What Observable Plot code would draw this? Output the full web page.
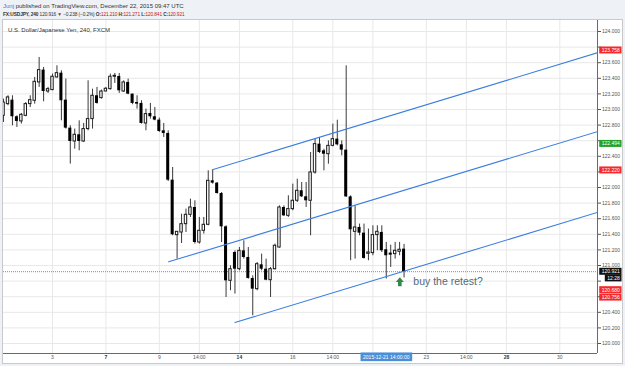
<!DOCTYPE html>
<html>
<head>
<meta charset="utf-8">
<script src="https://cdn.jsdelivr.net/npm/d3@7"></script>
<script src="https://cdn.jsdelivr.net/npm/@observablehq/plot@0.6"></script>
<style>
  html, body { margin: 0; padding: 0; width: 625px; height: 366px; overflow: hidden; background: #eef1f5;
    font-family: "Liberation Sans", Arial, sans-serif; }
  .hl { position: absolute; left: 3px; line-height: 7px; color: #333; white-space: nowrap; }
  #l1 { top: 2.5px; font-size: 6px; }
  #l2 { top: 11.2px; font-size: 4.8px; letter-spacing: -0.12px; }
  .red { color: #c4161c; }
  .usr { color: #3b82d0; }
  #panel { position: absolute; left: 2px; top: 19px; width: 621px; height: 345px; box-sizing: border-box;
    background: #fff; border: 1px solid #c9c9c9; }
  #chart { position: absolute; left: 0; top: 20px; }
</style>
</head>
<body>
<div id="l1" class="hl"><span class="usr">Junj</span> published on TradingView.com, December 22, 2015 09:47 UTC</div>
<div id="l2" class="hl"><b>FX:USDJPY, 240</b> 120.916 <span class="red">▼</span> −0.238 (−0.2%) <b>O:</b><span class="red">121.210</span> <b>H:</b><span class="red">121.271</span> <b>L:</b><span class="red">120.841</span> <b>C:</b><span class="red">120.921</span></div>
<div id="panel"></div>
<div id="chart"></div>
<script>
// ---- data: 4-hour USD/JPY candles, bar index (6 bars per trading day, bar 0 = Dec 1) ----
const barIndex = [1,2,3,4,5,6,7,8,9,10,11,12,13,14,15,16,17,18,19,20,21,22,23,24,25,26,27,28,29,30,
  31,32,33,34,35,36,37,38,39,40,41,42,43,44,45,46,47,48,49,50,51,52,53,54,55,56,57,58,59,60,
  61,62,63,64,65,66,67,68,69,70,71,72,73,74,75,76,77,78,79,80,81,82,83,84,85,86,87,88,89,90,91];
const open = [122.919,123.069,123.120,122.907,122.847,122.919,123.069,123.112,123.347,123.505,
  123.231,123.249,123.411,123.466,123.120,122.761,122.590,122.676,122.590,122.749,
  122.877,123.176,123.146,123.231,123.261,123.420,123.424,123.231,123.347,123.197,
  123.090,123.078,122.821,122.949,122.907,122.864,122.727,122.693,122.094,121.389,
  121.423,121.530,121.650,121.744,121.295,121.445,121.522,122.086,122.056,121.923,
  121.496,120.804,121.167,120.953,121.188,121.103,120.834,120.697,121.009,120.953,
  120.812,120.953,121.231,121.744,121.637,121.723,121.830,121.958,121.881,121.830,
  122.192,122.556,122.470,122.427,122.534,122.620,122.547,122.479,121.880,121.432,
  121.488,121.415,121.150,121.159,121.390,121.424,121.202,121.159,121.146,121.176,121.210];
const high = [123.133,123.176,123.176,122.919,122.949,123.090,123.176,123.411,123.667,123.539,
  123.283,123.454,123.560,123.496,123.390,122.791,122.749,122.855,122.821,123.368,
  123.261,123.283,123.249,123.283,123.454,123.462,123.462,123.368,123.390,123.197,
  123.176,123.112,123.005,123.078,123.026,122.890,122.821,122.727,122.257,121.432,
  121.658,121.723,121.851,121.830,121.616,121.616,122.214,122.223,122.064,121.936,
  121.509,120.996,121.188,121.231,121.317,121.231,120.868,121.039,121.146,121.082,
  120.975,121.274,121.765,121.765,121.894,122.043,122.107,122.064,122.064,122.449,
  122.620,122.641,122.491,122.598,122.812,122.863,122.598,123.560,121.893,121.766,
  121.531,121.531,121.467,121.509,121.509,121.509,121.296,121.261,121.296,121.296,121.271];
const low = [122.834,123.048,122.791,122.770,122.813,122.907,123.026,123.069,123.283,123.099,
  123.206,123.240,123.402,122.855,122.749,122.300,122.492,122.471,122.578,122.727,
  122.749,123.069,123.133,123.227,123.249,123.334,123.206,123.219,123.189,123.061,
  123.005,122.813,122.727,122.877,122.855,122.706,122.642,122.077,121.381,121.082,
  121.282,121.423,121.616,121.274,121.274,121.402,121.509,122.043,121.915,121.295,
  120.590,120.676,120.633,120.932,121.082,120.825,120.355,120.676,120.932,120.804,
  120.590,120.941,121.223,121.629,121.616,121.701,121.808,121.872,121.744,121.381,
  122.171,122.436,122.214,122.299,122.521,122.534,122.406,121.872,121.061,121.082,
  121.381,121.082,121.061,121.125,121.189,121.167,120.826,120.975,121.082,121.125,120.841];
const close = [123.090,123.155,122.907,122.847,122.932,123.069,123.120,123.355,123.505,123.231,
  123.261,123.420,123.466,123.112,122.761,122.590,122.676,122.590,122.749,122.877,
  123.176,123.078,123.231,123.266,123.420,123.432,123.240,123.347,123.197,123.078,
  123.069,122.821,122.941,122.907,122.864,122.719,122.693,122.094,121.394,121.432,
  121.530,121.650,121.744,121.295,121.445,121.522,122.086,122.056,121.923,121.496,
  120.804,120.953,120.953,121.188,121.103,120.834,120.697,121.017,120.953,120.812,
  120.953,121.253,121.744,121.637,121.723,121.830,121.958,121.881,121.830,122.193,
  122.556,122.449,122.427,122.534,122.620,122.547,122.479,121.880,121.458,121.488,
  121.415,121.091,121.167,121.390,121.432,121.189,121.125,121.133,121.189,121.202,120.921];

// parallel channel lines (bar index, price)
const channelName   = ["upper", "middle", "lower"];
const channelStartI = [47.9, 38.1, 53.0];
const channelStartP = [122.227, 121.047, 120.269];
const channelEndI   = [134.47, 134.47, 134.47];
const channelEndP   = [123.727, 122.717, 121.681];

// price axis
const priceTicks = [120.0,120.2,120.4,120.6,120.8,121.0,121.2,121.4,121.6,121.8,122.0,
  122.2,122.4,122.6,122.8,123.0,123.2,123.4,123.6,123.8,124.0];
// price-scale flags
const flagText  = ["123.758", "122.494", "122.220", "120.921", "12:28", "120.680", "120.756"];
const flagPrice = [123.758, 122.56, 122.220, 120.921, 120.836, 120.685, 120.59];
const flagColor = ["#f42a2a", "#24a324", "#f42a2a", "#111111", "#111111", "#f42a2a", "#f42a2a"];

// time axis
const timeTickI     = [12, 24, 36, 45, 54, 66, 75, 96, 105, 114, 126];
const timeTickLabel = ["3", "7", "9", "14:00", "14", "16", "14:00", "23", "14:00", "28", "30"];
const timeTickBold  = [false, true, false, false, true, false, false, false, false, true, false];
const timeGridI     = [12, 24, 36, 45, 54, 66, 75, 84, 96, 105, 114, 126];
const crossTimeI    = 87;
const crossTimeText = "2015-12-21 14:00:00";

const lastClose = 120.921;
const noteI = 90.05, notePrice = 120.791, noteText = "buy the retest?";
const chartTitle = "U.S. Dollar/Japanese Yen, 240, FXCM";

// ---- build tables ----
const candles = barIndex.map((i, k) => ({i, o: open[k], h: high[k], l: low[k], c: close[k]}));
const up = candles.filter(d => d.c >= d.o);
const down = candles.filter(d => d.c < d.o);
const channel = channelName.flatMap((n, k) => [
  {name: n, i: channelStartI[k], p: channelStartP[k]},
  {name: n, i: channelEndI[k], p: channelEndP[k]}
]);
const flags = flagText.map((t, k) => ({t, p: flagPrice[k], color: flagColor[k]}));
const timeTicks = timeTickI.map((i, k) => ({i, label: timeTickLabel[k], bold: timeTickBold[k]}));
// tick labels hidden behind a price flag
const covered = v => flagPrice.some(p => Math.abs(p - v) < 0.075);
const fmt = d3.format(".3f");

const xDomain = [0.99, 134.47];
const yDomain = [119.872, 124.141];
const fontFamily = "'Liberation Sans', Arial, sans-serif";

const arrowSymbol = {
  draw(ctx) {
    ctx.moveTo(0, -4.5);
    ctx.lineTo(4, 0.3);
    ctx.lineTo(1.8, 0.3);
    ctx.lineTo(1.8, 4.5);
    ctx.lineTo(-1.8, 4.5);
    ctx.lineTo(-1.8, 0.3);
    ctx.lineTo(-4, 0.3);
    ctx.closePath();
  }
};

const chart = Plot.plot({
  width: 625,
  height: 346,
  marginLeft: 3,
  marginRight: 28,
  marginTop: 0,
  marginBottom: 13,
  style: {background: "transparent", fontFamily, overflow: "visible"},
  x: {domain: xDomain, axis: null},
  y: {domain: yDomain, axis: null},
  marks: [
    Plot.gridY(priceTicks, {stroke: "#e8e8e8", strokeOpacity: 1}),
    Plot.gridX(timeGridI, {stroke: "#e8e8e8", strokeOpacity: 1}),
    Plot.ruleY([lastClose], {stroke: "#8c8c8c", strokeDasharray: "1,1"}),
    Plot.ruleX(candles, {x: "i", y1: "l", y2: "h", stroke: "#3a3a3a", strokeWidth: 1, clip: true}),
    Plot.rect(down, {x1: d => d.i - 0.34, x2: d => d.i + 0.34, y1: "o", y2: "c", fill: "#000", clip: true}),
    Plot.rect(up, {x1: d => d.i - 0.27, x2: d => d.i + 0.27, y1: "o", y2: "c", fill: "#fff", stroke: "#1a1a1a", strokeWidth: 1, clip: true}),
    Plot.line(channel, {x: "i", y: "p", z: "name", stroke: "#3b7de0", strokeWidth: 1.1, clip: true}),
    Plot.ruleX([xDomain[1]], {stroke: "#6a6a6a"}),
    Plot.ruleY([yDomain[0]], {stroke: "#6a6a6a"}),
    Plot.axisY(priceTicks, {anchor: "right", tickFormat: d => covered(d) ? "" : fmt(d), tickSize: 3, tickPadding: 1.5,
      fontSize: 5, color: "#555", label: null}),
    Plot.text(timeTicks.filter(d => !d.bold), {x: "i", text: "label", frameAnchor: "bottom", dy: 5.3,
      fontSize: 5, fill: "#555"}),
    Plot.text(timeTicks.filter(d => d.bold), {x: "i", text: "label", frameAnchor: "bottom", dy: 5.3,
      fontSize: 5, fill: "#333", fontWeight: "bold"}),
    Plot.text([crossTimeText], {x: crossTimeI, text: d => d, frameAnchor: "bottom", dy: 5.3,
      fontSize: 5, fill: "#fff"}),
    Plot.text(flags, {y: "p", text: "t", frameAnchor: "right", textAnchor: "end", dx: 22.3,
      fontSize: 5, fill: "#fff"}),
    Plot.text([chartTitle], {frameAnchor: "top-left", text: d => d, dx: 4.5, dy: 6.8, fontSize: 6, fill: "#333"}),
    Plot.dot([{i: noteI, p: notePrice}], {x: "i", y: "p", symbol: arrowSymbol, fill: "#2f8a46", stroke: "none"}),
    Plot.text([{i: noteI, p: notePrice}], {x: "i", y: "p", text: () => noteText, textAnchor: "start", dx: 13.5,
      fontSize: 10.5, fill: "#56697a"})
  ]
});

document.getElementById("chart").appendChild(chart);

// label boxes behind flag / crosshair texts
const ns = "http://www.w3.org/2000/svg";
const boxColor = new Map(flags.map(f => [f.t, f.color]));
boxColor.set(crossTimeText, "#4a8fd8");
d3.select(chart).selectAll("text").each(function () {
  const t = this.textContent;
  if (!boxColor.has(t)) return;
  const bb = this.getBBox();
  const isTime = t === crossTimeText;
  const h = isTime ? 8.7 : 7;
  const r = document.createElementNS(ns, "rect");
  const padL = 2.5, padR = isTime ? 2.5 : 1.5;
  r.setAttribute("x", bb.x - padL);
  r.setAttribute("y", bb.y + bb.height / 2 - h / 2);
  r.setAttribute("width", bb.width + padL + padR);
  r.setAttribute("height", h);
  r.setAttribute("fill", boxColor.get(t));
  const tr = this.getAttribute("transform");
  if (tr) r.setAttribute("transform", tr);
  this.parentNode.insertBefore(r, this);
});
</script>
</body>
</html>
